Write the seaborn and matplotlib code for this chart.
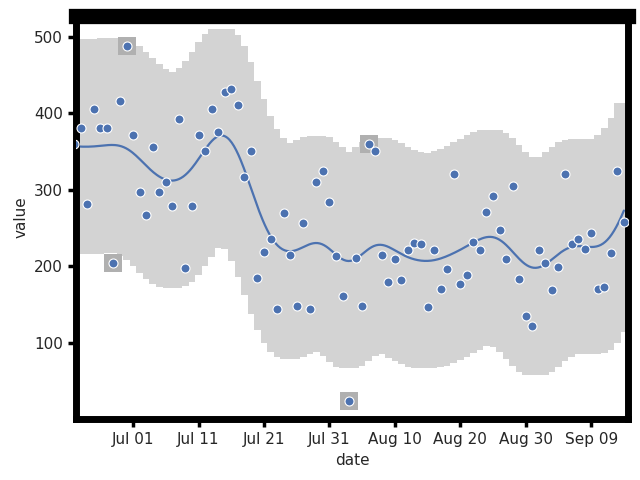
import numpy as np
import pandas as pd
import matplotlib
matplotlib.use("Agg")
import matplotlib.pyplot as plt
import seaborn as sns

# observed values, one per day
values = [360, 381, 282, 406, 381, 381, 205, 416, 487, 371,
          297, 267, 356, 297, 310, 279, 392, 198, 279, 371,
          351, 406, 376, 427, 432, 411, 316, 351, 185, 219,
          236, 144, 270, 215, 148, 257, 144, 310, 325, 284,
          214, 161, 24, 211, 148, 360, 351, 215, 180, 210,
          182, 222, 231, 229, 147, 222, 171, 197, 320, 177,
          189, 232, 222, 271, 292, 248, 210, 305, 184, 135,
          122, 222, 205, 169, 199, 320, 229, 236, 223, 244,
          171, 173, 218, 325, 258]
start_date = "2023-06-22"
tick_idx = [9, 19, 29, 39, 49, 59, 69, 79]
y_ticks = [100, 200, 300, 400, 500]
anomaly_idx = [6, 8, 42, 45]

smooth_sigma = 3.0     # kernel width in points
band_width = 140       # half width of the normal range
band_window = 3

n = len(values)
dates = pd.date_range(start_date, periods=n, freq="D")
df = pd.DataFrame({"i": np.arange(n), "value": values})


def local_linear(x_eval, x, y, sigma):
    # gaussian weighted local linear fit (lowess-like, no robustness step)
    out = []
    for x0 in x_eval:
        w = np.exp(-0.5 * ((x - x0) / sigma) ** 2)
        X = np.c_[np.ones_like(x), x - x0]
        W = X * w[:, None]
        beta = np.linalg.solve(X.T @ W, W.T @ y)
        out.append(beta[0])
    return np.array(out)


x = df["i"].to_numpy(dtype=float)
y = df["value"].to_numpy(dtype=float)
grid = np.linspace(0, n - 1, 500)
trend = pd.DataFrame({"i": grid, "value": local_linear(grid, x, y, smooth_sigma)})

trend_pts = pd.Series(local_linear(x, x, y, smooth_sigma))
upper = trend_pts.rolling(band_window, center=True, min_periods=1).max() + band_width
lower = trend_pts.rolling(band_window, center=True, min_periods=1).min() - band_width

sns.set_theme(style="white")
plt.rcParams['font.family'] = ['DejaVu Sans']

fig = plt.figure(figsize=(6.4, 4.8), dpi=100)
ax = fig.add_axes([0.119, 0.127, 0.862, 0.840])

edges = np.r_[x - 0.5, n - 0.5]
ax.fill_between(edges, np.r_[lower, lower.iloc[-1]], np.r_[upper, upper.iloc[-1]],
                step="post", color="#d3d3d3", lw=0, zorder=0)

anom = df.iloc[anomaly_idx]
ax.scatter(anom["i"], anom["value"], marker="s", s=150, color="#b0b0b0", lw=0, zorder=1)

sns.lineplot(data=trend, x="i", y="value", ax=ax, color="#4c72b0", lw=1.6, zorder=2)
sns.scatterplot(data=df, x="i", y="value", ax=ax, color="#4c72b0",
                edgecolor="white", linewidth=0.8, s=42, zorder=3)

ax.set_xlim(0.3, 84.6)
ax.set_ylim(0.7, 527)
ax.set_xticks(tick_idx)
ax.set_xticklabels(dates[tick_idx].strftime("%b %d"))
ax.set_yticks(y_ticks)
ax.set_xlabel("date", fontsize=11)
ax.set_ylabel("value", fontsize=11)
ax.tick_params(axis="both", which="major", length=6, width=2.5, color="black",
               bottom=True, left=True, labelsize=11)

for side in ["left", "bottom", "right"]:
    ax.spines[side].set_linewidth(5)
    ax.spines[side].set_color("black")
ax.spines["top"].set_linewidth(11)
ax.spines["top"].set_color("black")

fig.savefig("out.png", dpi=100)
